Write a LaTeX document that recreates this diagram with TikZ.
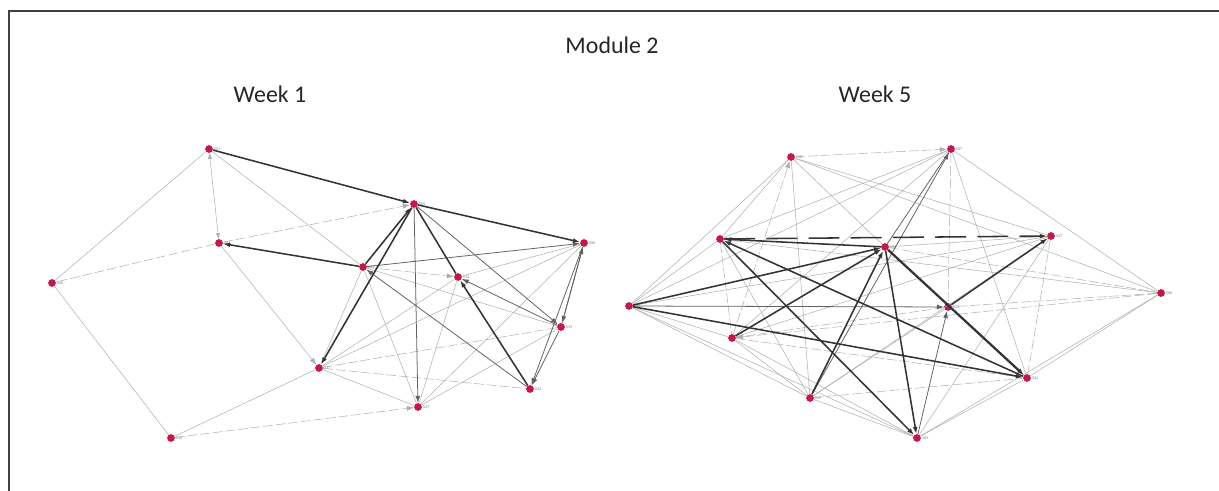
\documentclass[tikz,border=0pt]{standalone}
\usepackage{fontspec}
\setmainfont{Carlito}
\usepackage{tikz}
\usetikzlibrary{arrows.meta}

\definecolor{nodered}{RGB}{200,22,72}
\definecolor{lblgray}{RGB}{110,140,140}

\tikzset{
  stud/.style={circle, fill=nodered, inner sep=0pt, minimum size=5.5pt},
  lbl/.style={font=\fontsize{3}{3}\selectfont, text=lblgray, inner sep=0.5pt},
  faint/.style={draw=black!32, line width=0.35pt},
  mid/.style={draw=black!62, line width=0.55pt},
  heavy/.style={draw=black!80, line width=1.1pt},
  broken/.style={dash pattern=on 7pt off 2pt},
  longbroken/.style={dash pattern=on 22pt off 8pt},
  tip/.style={-{Latex[length=5pt,width=3.5pt]}},
  both/.style={{Latex[length=4pt,width=3pt]}-{Latex[length=4pt,width=3pt]}},
  title/.style={font=\fontsize{17}{19}\selectfont, text=black!85}
}

\begin{document}
\begin{tikzpicture}[x=0.025cm, y=-0.025cm]
			\useasboundingbox (0,0) rectangle (1219,491);
			\fill[white] (0,0) rectangle (1219,491);
			\draw[black!75, line width=0.8pt] (9,491)--(9,11)--(1219,11);
			% titles
			\node[title] (mod) at (612,45) {Module 2};
			\node[title] (wka) at (270,94) {Week 1};
			\node[title] (wkb) at (875,94) {Week 5};
			% week 1 students
			\node[stud, label={[lbl]right:S01}] (l1) at (209,149) {};
			\node[stud, label={[lbl]right:S05}] (l2) at (414,204) {};
			\node[stud, label={[lbl]right:S06}] (l3) at (584,243) {};
			\node[stud, label={[lbl]right:S07}] (l4) at (219,243) {};
			\node[stud, label={[lbl]right:S26}] (l5) at (52,283) {};
			\node[stud, label={[lbl]right:S22}] (l6) at (363,267) {};
			\node[stud, label={[lbl]right:S12}] (l7) at (458,277) {};
			\node[stud, label={[lbl]right:S19}] (l8) at (561,327) {};
			\node[stud, label={[lbl]right:S17}] (l9) at (319,368) {};
			\node[stud, label={[lbl]right:S27}] (l10) at (418,407) {};
			\node[stud, label={[lbl]right:S24}] (l11) at (530,389) {};
			\node[stud, label={[lbl]right:S16}] (l12) at (171,438) {};
			% week 1 ties
			\draw[faint] (l1)--(l5);
			\draw[faint, both] (l1)--(l4);
			\draw[faint] (l1)--(l6);
			\draw[faint, broken, tip] (l4)--(l2);
			\draw[faint, broken] (l4)--(l5);
			\draw[faint, tip] (l4)--(l9);
			\draw[faint] (l5)--(l12);
			\draw[faint] (l12)--(l9);
			\draw[faint, broken, tip] (l12)--(l10);
			\draw[faint, broken, tip] (l6)--(l7);
			\draw[faint] (l6)--(l8);
			\draw[faint] (l6)--(l10);
			\draw[faint] (l6)--(l9);
			\draw[faint] (l7)--(l3);
			\draw[faint] (l7)--(l9);
			\draw[faint] (l7)--(l10);
			\draw[faint] (l3)--(l10);
			\draw[faint] (l3)--(l9);
			\draw[faint, broken] (l8)--(l9);
			\draw[faint] (l8)--(l10);
			\draw[faint, broken] (l9)--(l11);
			\draw[faint] (l9)--(l10);
			\draw[faint] (l4)--(l6);
			\draw[mid, tip] (l2)--(l8);
			\draw[mid, tip] (l2)--(l10);
			\draw[mid, tip] (l11)--(l6);
			\draw[mid, tip] (l8)--(l7);
			\draw[mid, tip] (l3)--(l8);
			\draw[mid, tip] (l8)--(l3);
			\draw[mid, tip] (l3)--(l11);
			\draw[mid, tip] (l8)--(l11);
			\draw[mid, tip] (l6)--(l3);
			\draw[heavy, tip] (l1)--(l2);
			\draw[heavy, tip] (l2)--(l3);
			\draw[heavy, tip] (l6)--(l4);
			\draw[heavy, tip] (l6)--(l2);
			\draw[heavy, tip] (l2)--(l9);
			\draw[heavy] (l2)--(l7);
			\draw[heavy, tip] (l11)--(l7);
			% week 5 students
			\node[stud, label={[lbl]right:S18}] (r1) at (791,157) {};
			\node[stud, label={[lbl]right:S07}] (r2) at (951,149) {};
			\node[stud, label={[lbl]right:S27}] (r3) at (1051,236) {};
			\node[stud, label={[lbl]right:S16}] (r4) at (720,239) {};
			\node[stud, label={[lbl]right:S22}] (r5) at (885,247) {};
			\node[stud, label={[lbl]right:S06}] (r6) at (1161,293) {};
			\node[stud, label={[lbl]right:S12}] (r7) at (629,306) {};
			\node[stud, label={[lbl]right:S23}] (r8) at (948,307) {};
			\node[stud, label={[lbl]right:S17}] (r9) at (732,338) {};
			\node[stud, label={[lbl]right:S24}] (r10) at (1027,378) {};
			\node[stud, label={[lbl]right:S19}] (r11) at (810,398) {};
			\node[stud, label={[lbl]right:S05}] (r12) at (917,438) {};
			% week 5 ties
			\draw[faint, broken, tip] (r1)--(r2);
			\draw[faint] (r1)--(r4);
			\draw[faint] (r1)--(r7);
			\draw[faint, broken, tip] (r9)--(r1);
			\draw[faint] (r1)--(r5);
			\draw[faint] (r1)--(r3);
			\draw[faint] (r1)--(r6);
			\draw[faint] (r1)--(r11);
			\draw[faint] (r2)--(r4);
			\draw[faint] (r2)--(r7);
			\draw[faint] (r2)--(r9);
			\draw[faint, broken] (r2)--(r8);
			\draw[faint] (r2)--(r10);
			\draw[faint] (r2)--(r6);
			\draw[faint] (r3)--(r5);
			\draw[faint] (r3)--(r9);
			\draw[faint] (r3)--(r11);
			\draw[faint, broken] (r3)--(r10);
			\draw[faint] (r3)--(r12);
			\draw[faint] (r3)--(r7);
			\draw[faint, broken] (r5)--(r6);
			\draw[faint, broken] (r6)--(r8);
			\draw[faint] (r6)--(r10);
			\draw[faint] (r6)--(r12);
			\draw[faint, broken] (r6)--(r9);
			\draw[faint] (r4)--(r6);
			\draw[faint] (r7)--(r9);
			\draw[faint] (r7)--(r11);
			\draw[faint] (r7)--(r12);
			\draw[faint] (r7)--(r4);
			\draw[faint, broken] (r4)--(r9);
			\draw[faint] (r4)--(r11);
			\draw[faint, broken, tip] (r8)--(r9);
			\draw[faint] (r8)--(r11);
			\draw[faint, broken] (r9)--(r10);
			\draw[faint] (r9)--(r11);
			\draw[faint] (r9)--(r12);
			\draw[faint, broken] (r11)--(r10);
			\draw[faint] (r12)--(r10);
			\draw[faint] (r11)--(r12);
			\draw[mid, tip] (r7)--(r8);
			\draw[mid, tip] (r11)--(r2);
			\draw[mid] (r2)--(r5);
			\draw[mid, tip] (r12)--(r8);
			\draw[heavy, longbroken, tip] (r4)--(r3);
			\draw[heavy, tip] (r5)--(r4);
			\draw[heavy, tip] (r10)--(r4);
			\draw[heavy, line width=1.6pt, tip] (r5)--(r10);
			\draw[heavy, tip] (r11)--(r5);
			\draw[heavy, tip] (r5)--(r12);
			\draw[heavy, tip] (r7)--(r5);
			\draw[heavy, tip] (r9)--(r5);
			\draw[heavy, tip] (r8)--(r3);
			\draw[heavy, tip] (r7)--(r10);
			\draw[heavy, tip] (r4)--(r12);
		\end{tikzpicture}
\end{document}
